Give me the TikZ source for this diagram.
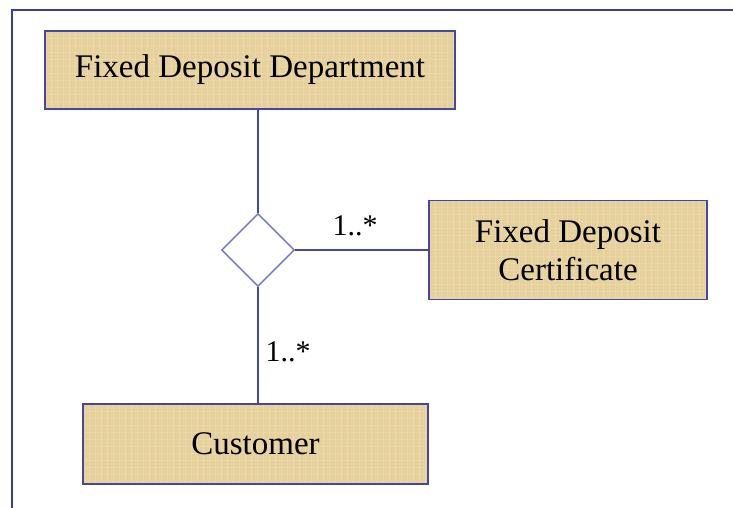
\documentclass[tikz,border=0pt]{standalone}
\usepackage{fontspec}
\setmainfont{Liberation Serif}
\usetikzlibrary{shapes.geometric}
\definecolor{frameblue}{RGB}{60,60,160}
\definecolor{lineblue}{RGB}{70,70,165}
\definecolor{diablue}{RGB}{115,115,195}
\definecolor{papyrus}{RGB}{230,208,155}
\definecolor{papyruslight}{RGB}{238,222,182}
\begin{document}
\begin{tikzpicture}[x=1pt,y=-1pt,
  classbox/.style={draw=lineblue,line width=1.6pt,fill=papyrus,rectangle,inner sep=0pt,
    font=\fontsize{33}{38}\selectfont,align=center,
    path picture={\foreach \k in {0,6,...,420}{
        \draw[papyruslight,line width=0.8pt,opacity=0.6]
          ([xshift=\k pt]path picture bounding box.north west) -- ([xshift=\k pt]path picture bounding box.south west);}
      \foreach \k in {0,7,...,100}{
        \draw[papyruslight,line width=0.8pt,opacity=0.5]
          ([yshift=-\k pt]path picture bounding box.north west) -- ([yshift=-\k pt]path picture bounding box.north east);}}},
  assoc/.style={draw=lineblue,line width=1.4pt},
  mult/.style={font=\fontsize{30}{36}\selectfont,inner sep=0pt}]
\useasboundingbox (0,0) rectangle (733,508);
\draw[frameblue,line width=2pt] (12,508) coordinate (fl) -- (12,10) coordinate (fc) -- (733,10) coordinate (fr);
\node[classbox,minimum width=410pt,minimum height=78pt] (dept) at (250,70) {Fixed Deposit Department};
\node[classbox,minimum width=278pt,minimum height=99pt] (cert) at (568,250) {Fixed Deposit\\Certificate};
\node[classbox,minimum width=345pt,minimum height=80pt] (cust) at (255.5,444) {Customer};
\node[diamond,aspect=1,draw=diablue,line width=1.4pt,fill=white,minimum width=73pt,minimum height=73pt,inner sep=0pt] (dia) at (258,250) {};
\draw[assoc] (dia.north) -- (dia.north |- dept.south);
\draw[assoc] (dia.south) -- (dia.south |- cust.north);
\draw[assoc] (dia.east) -- (dia.east -| cert.west);
\node[mult] (m1) at (355,226) {1..*};
\node[mult] (m2) at (288,352) {1..*};
\end{tikzpicture}
\end{document}
